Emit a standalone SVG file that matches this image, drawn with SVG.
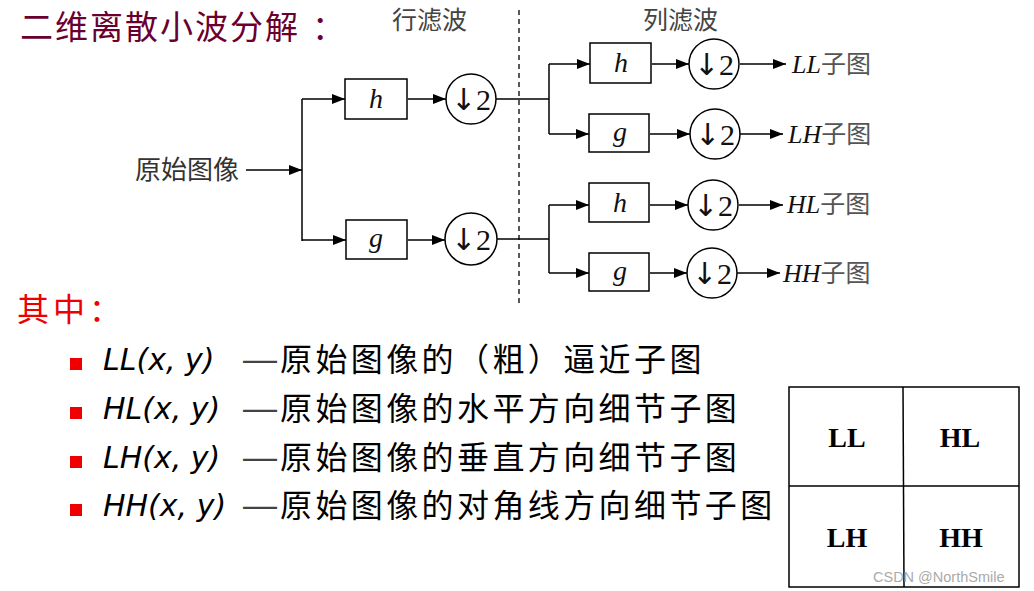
<svg xmlns="http://www.w3.org/2000/svg" width="1034" height="591" viewBox="0 0 1034 591">
<defs>
<marker id="arr" markerUnits="userSpaceOnUse" markerWidth="14" markerHeight="12" refX="13" refY="5" orient="auto">
<path d="M0,0 L13,5 L0,10 Z" fill="#000"/>
</marker>
<style>
.cn{font-family:"Noto Sans CJK SC","Noto Sans",sans-serif;}
.box{fill:#fff;stroke:#000;stroke-width:1.5;}
.circ{fill:#fff;stroke:#000;stroke-width:1.5;}
.con{fill:none;stroke:#000;stroke-width:1.5;}
.conA{fill:none;stroke:#000;stroke-width:1.5;marker-end:url(#arr);}
.fl{font-family:"Liberation Serif","Times New Roman",serif;font-style:italic;font-size:28px;text-anchor:middle;fill:#111;}
.ds{font-family:"Liberation Serif","DejaVu Serif",serif;font-size:30px;text-anchor:middle;fill:#111;}
.ar{font-family:"DejaVu Sans",sans-serif;font-size:30px;}
.out{font-size:26px;fill:#111;}
.it{font-family:"Liberation Serif","Times New Roman",serif;font-style:italic;}
.zi{font-family:"Noto Sans CJK SC",sans-serif;font-size:25px;fill:#555;}
.bl{fill:#ee0000;}
.bt{font-family:"DejaVu Sans",sans-serif;font-style:italic;font-size:30px;fill:#000;}
.bc{font-family:"Noto Sans CJK SC",sans-serif;font-size:32px;letter-spacing:3.4px;fill:#000;}
.dash{font-family:"Liberation Sans",sans-serif;font-size:34px;fill:#444;}
.tb{font-family:"Liberation Serif","Times New Roman",serif;font-weight:bold;font-size:28px;text-anchor:middle;fill:#000;}
</style>
</defs>
<rect width="1034" height="591" fill="#fff"/>

<g id="title">
<text class="cn" x="20" y="39" font-size="33" letter-spacing="2" fill="#6a0030">二维离散小波分解</text>
<text class="cn" x="312" y="39" font-size="33" fill="#6a0030">：</text>
</g>
<text id="row-filter-label" class="cn" x="392" y="29" font-size="25" fill="#444">行滤波</text>
<text id="col-filter-label" class="cn" x="643" y="29" font-size="25" fill="#444">列滤波</text>
<line id="divider" x1="519" y1="10" x2="519" y2="307" stroke="#000" stroke-width="1.3" stroke-dasharray="5,4"/>

<g id="connectors">
<path class="conA" d="M246,170 H302"/>
<path class="con" d="M302,99 V241"/>
<path class="conA" d="M302,99 H345"/>
<path class="conA" d="M302,240 H346"/>
<path class="conA" d="M408,99 H446"/>
<path class="conA" d="M408,240 H445"/>
<path class="con" d="M496,99 H549"/>
<path class="con" d="M549,64 V134"/>
<path class="conA" d="M549,64 H590"/>
<path class="conA" d="M549,134 H589"/>
<path class="con" d="M497,239 H549"/>
<path class="con" d="M549,205 V273"/>
<path class="conA" d="M549,205 H589"/>
<path class="conA" d="M549,273 H589"/>
<path class="conA" d="M652,64 H689"/>
<path class="conA" d="M650,134 H690"/>
<path class="conA" d="M650,205 H688"/>
<path class="conA" d="M650,273 H687"/>
<path class="conA" d="M740,64 H786"/>
<path class="conA" d="M740,134 H783"/>
<path class="conA" d="M739,205 H783"/>
<path class="conA" d="M737,273 H780"/>
</g>

<g id="src"><text class="cn" x="135" y="179" font-size="26" fill="#333">原始图像</text></g>

<g id="h1"><rect class="box" x="345" y="79" width="62" height="40"/><text class="fl" x="376" y="108">h</text></g>
<g id="g1"><rect class="box" x="346" y="220" width="61" height="39"/><text class="fl" x="376" y="247">g</text></g>
<g id="d1"><circle class="circ" cx="471" cy="99" r="25"/><text class="ds" x="471" y="110"><tspan class="ar">↓</tspan>2</text></g>
<g id="d2"><circle class="circ" cx="471" cy="239" r="26"/><text class="ds" x="471" y="250"><tspan class="ar">↓</tspan>2</text></g>

<g id="h2"><rect class="box" x="590" y="43" width="61" height="40"/><text class="fl" x="621" y="72">h</text></g>
<g id="g2"><rect class="box" x="589" y="114" width="60" height="38"/><text class="fl" x="620" y="141">g</text></g>
<g id="h3"><rect class="box" x="589" y="183" width="60" height="39"/><text class="fl" x="620" y="212">h</text></g>
<g id="g3"><rect class="box" x="589" y="253" width="60" height="38"/><text class="fl" x="620" y="280">g</text></g>

<g id="d3"><circle class="circ" cx="714" cy="64" r="25"/><text class="ds" x="714" y="75"><tspan class="ar">↓</tspan>2</text></g>
<g id="d4"><circle class="circ" cx="715" cy="134" r="25"/><text class="ds" x="715" y="145"><tspan class="ar">↓</tspan>2</text></g>
<g id="d5"><circle class="circ" cx="713" cy="205" r="25"/><text class="ds" x="713" y="216"><tspan class="ar">↓</tspan>2</text></g>
<g id="d6"><circle class="circ" cx="712" cy="273" r="25"/><text class="ds" x="712" y="284"><tspan class="ar">↓</tspan>2</text></g>

<g id="outLL"><text class="out" x="792" y="73"><tspan class="it">LL</tspan><tspan class="zi">子图</tspan></text></g>
<g id="outLH"><text class="out" x="788" y="143"><tspan class="it">LH</tspan><tspan class="zi">子图</tspan></text></g>
<g id="outHL"><text class="out" x="787" y="213"><tspan class="it">HL</tspan><tspan class="zi">子图</tspan></text></g>
<g id="outHH"><text class="out" x="783" y="282"><tspan class="it">HH</tspan><tspan class="zi">子图</tspan></text></g>

<g id="legend">
<text class="cn" x="17" y="321" font-size="32" letter-spacing="4" fill="#ee0000">其中：</text>
<rect class="bl" x="70" y="358" width="12" height="12"/>
<rect class="bl" x="70" y="407" width="12" height="12"/>
<rect class="bl" x="70" y="456" width="12" height="12"/>
<rect class="bl" x="70" y="504" width="12" height="12"/>
<text class="bt" x="103" y="370">LL(x, y)</text>
<text class="bt" x="103" y="419">HL(x, y)</text>
<text class="bt" x="103" y="468">LH(x, y)</text>
<text class="bt" x="103" y="516">HH(x, y)</text>
<text class="dash" x="243" y="370">—</text>
<text class="dash" x="243" y="419">—</text>
<text class="dash" x="243" y="468">—</text>
<text class="dash" x="243" y="516">—</text>
<text class="bc" x="280" y="371">原始图像的（粗）逼近子图</text>
<text class="bc" x="280" y="420">原始图像的水平方向细节子图</text>
<text class="bc" x="280" y="469">原始图像的垂直方向细节子图</text>
<text class="bc" x="280" y="517">原始图像的对角线方向细节子图</text>
</g>

<g id="grid">
<rect x="789" y="387" width="230" height="200" fill="none" stroke="#000" stroke-width="1.5"/>
<line x1="903" y1="387" x2="904" y2="587" stroke="#000" stroke-width="1.5"/>
<line x1="789" y1="486" x2="1019" y2="486" stroke="#000" stroke-width="1.5"/>
<text class="tb" x="847" y="447">LL</text>
<text class="tb" x="960" y="447">HL</text>
<text class="tb" x="847" y="547">LH</text>
<text class="tb" x="961" y="547">HH</text>
</g>
<text id="watermark" x="873" y="582" font-family="Liberation Sans, Arial, sans-serif" font-size="14.5" fill="#aaa">CSDN @NorthSmile</text>
</svg>
